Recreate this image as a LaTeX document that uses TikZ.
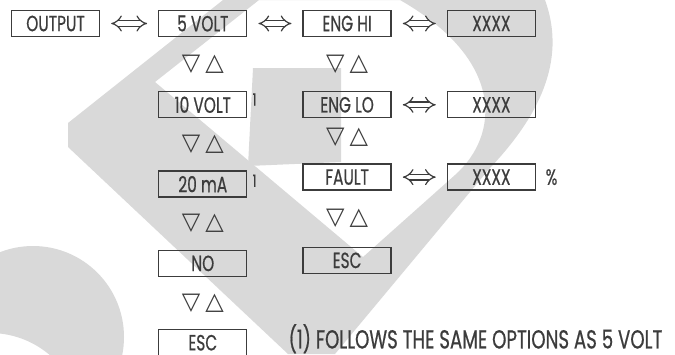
\documentclass[tikz,border=0pt]{standalone}
\usepackage{fontspec}
\setmainfont[FakeStretch=0.7, FakeBold=0.6]{Poppins}
\newfontfamily\symfont{DejaVu Sans}
\usepackage{tikz}
\usetikzlibrary{positioning,calc,arrows.meta}
\definecolor{wmgray}{RGB}{217,217,217}
\definecolor{ink}{RGB}{60,60,60}

\tikzset{
  menubox/.style={draw=ink, line width=1.3pt, minimum width=88pt, minimum height=26pt,
    inner sep=0pt, text=ink, font=\fontsize{22}{22}\selectfont},
  swap/.style={draw=ink, double=white, double distance=4.4pt, line width=1.2pt,
    {Implies[length=7pt, width=14pt]}-{Implies[length=7pt, width=14pt]},
    shorten <=11pt, shorten >=11pt},
  updown/.style={text=ink, inner sep=0pt, font=\symfont\fontsize{24}{24}\selectfont},
  fnmark/.style={text=ink, inner sep=0pt, font=\fontsize{17}{17}\selectfont},
  notetext/.style={text=ink, inner sep=0pt, font=\fontsize{26}{26}\selectfont},
}

\begin{document}
\begin{tikzpicture}[x=1pt, y=-1pt]
  \useasboundingbox (0,0) rectangle (675,354);

  % logo in the background
  \begin{scope}
    \clip (0,0) rectangle (675,354);
    \fill[wmgray, even odd rule]
      (223,0) -- (68,123) -- (68,147) -- (288,354) -- (335,354) -- (490,168)
        .. controls (545,110) and (565,55) .. (545,0) -- cycle
      (259,0) -- (155,82) -- (363,257) -- (455,175)
        .. controls (500,135) and (505,60) .. (400,0) -- cycle;
    \fill[wmgray] (253,68) -- (341,68) -- (341,162) -- (248,166) -- cycle;
    \fill[wmgray, even odd rule] (33,337) circle (91) (-10,425) circle (92);
  \end{scope}

  \node[menubox] (output) at (55.5,23.5) {OUTPUT};
  \node[menubox, right=58pt of output] (volt5) {5 VOLT};
  \node[menubox, right=55pt of volt5] (enghi) {ENG HI};
  \node[menubox, right=55pt of enghi] (xhi) {XXXX};

  \node[menubox, below=54pt of volt5] (volt10) {10 VOLT};
  \node[menubox, below=52pt of volt10] (ma20) {20 mA};
  \node[menubox, below=52pt of ma20] (no) {NO};
  \node[menubox, below=52pt of no] (esc1) {ESC};

  \node[menubox, below=54pt of enghi] (englo) {ENG LO};
  \node[menubox, below=45pt of englo] (fault) {FAULT};
  \node[menubox, below=56pt of fault] (esc2) {ESC};
  \node[menubox, right=55pt of englo] (xlo) {XXXX};
  \node[menubox, right=55pt of fault] (xfault) {XXXX};

  \draw[swap] (output) -- (volt5);
  \draw[swap] (volt5) -- (enghi);
  \draw[swap] (enghi) -- (xhi);
  \draw[swap] (englo) -- (xlo);
  \draw[swap] (fault) -- (xfault);

  \node[updown] (ud1) at ($(volt5)!.5!(volt10)$) {▽\hspace{5pt}△};
  \node[updown] (ud2) at ($(volt10)!.5!(ma20)$) {▽\hspace{5pt}△};
  \node[updown] (ud3) at ($(ma20)!.5!(no)$) {▽\hspace{5pt}△};
  \node[updown] (ud4) at ($(no)!.5!(esc1)$) {▽\hspace{5pt}△};
  \node[updown] (ud5) at ($(enghi)!.5!(englo)$) {▽\hspace{5pt}△};
  \node[updown] (ud6) at ($(englo)!.45!(fault)$) {▽\hspace{5pt}△};
  \node[updown] (ud7) at ($(fault)!.5!(esc2)$) {▽\hspace{5pt}△};

  \node[fnmark, anchor=north west] (fn1) at ([xshift=5pt,yshift=-2pt]volt10.north east) {1};
  \node[fnmark, anchor=north west] (fn2) at ([xshift=5pt,yshift=-4pt]ma20.north east) {1};
  \node[menubox, draw=none, minimum width=0pt, right=9pt of xfault] (pct) {\%};
  \node[notetext, anchor=west] (note) at ([xshift=41pt,yshift=4pt]esc1.east)
    {(1) FOLLOWS THE SAME OPTIONS AS 5 VOLT};
\end{tikzpicture}
\end{document}
